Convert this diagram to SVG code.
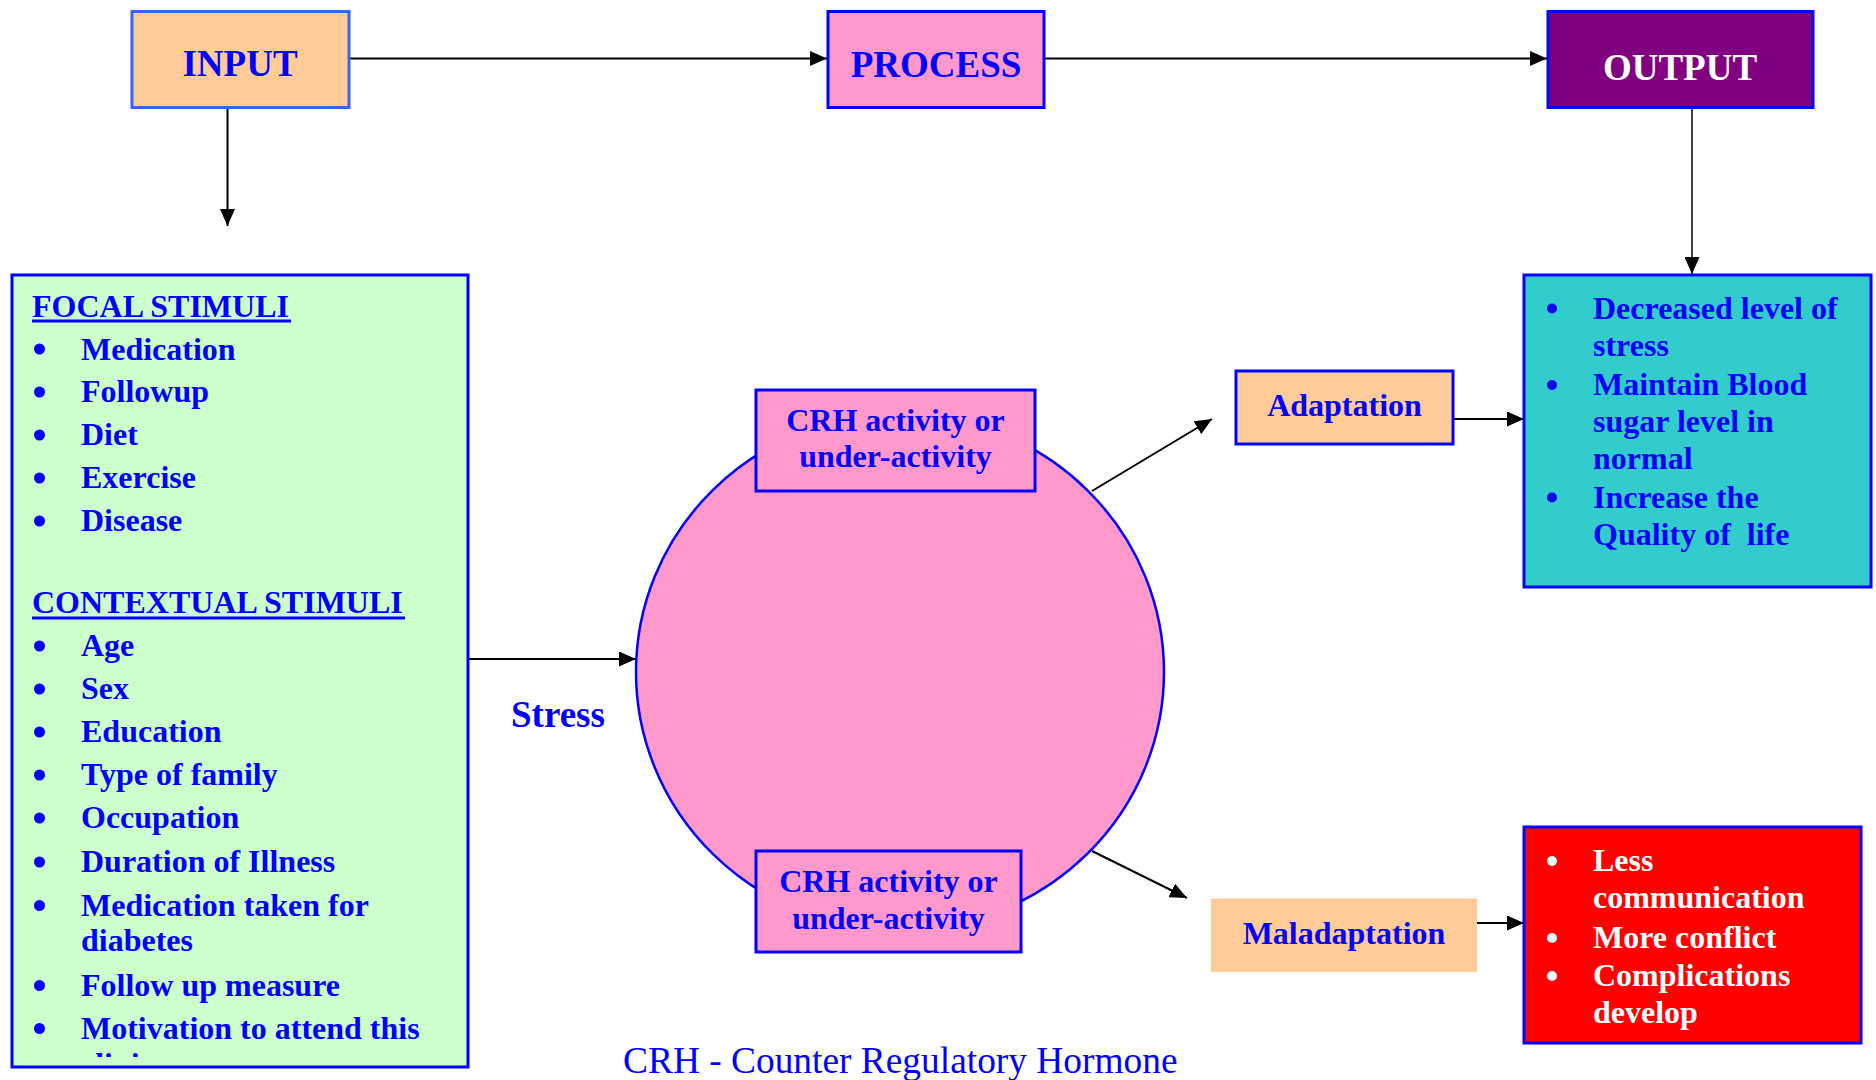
<svg xmlns="http://www.w3.org/2000/svg" width="1876" height="1080" viewBox="0 0 1876 1080">
<style>
.t{font-family:"Liberation Serif","Times New Roman",serif;font-weight:bold;fill:#0000FF}
.w{fill:#FFFFFF}
.big{font-size:37px}
.m{font-size:32px}
.mid{text-anchor:middle}
.box{stroke:#0000FF;stroke-width:3}
.ln{stroke:#000;stroke-width:2;fill:none}
.bd{fill:#0000FF}
.bw{fill:#FFFFFF}
</style>
<defs>
<marker id="ah" markerUnits="userSpaceOnUse" markerWidth="17" markerHeight="15" refX="17" refY="7.5" orient="auto">
<path d="M0,0 L17,7.5 L0,15 Z" fill="#000"/>
</marker>
<clipPath id="gclip"><rect x="12" y="275" width="456" height="782"/></clipPath>
</defs>
<rect width="1876" height="1080" fill="#FFFFFF"/>

<g id="connectors">
<line class="ln" x1="349" y1="58.5" x2="827" y2="58.5" marker-end="url(#ah)"/>
<line class="ln" x1="1045" y1="58.5" x2="1547" y2="58.5" marker-end="url(#ah)"/>
<line class="ln" x1="227.5" y1="108" x2="227.5" y2="226" marker-end="url(#ah)"/>
<line class="ln" style="stroke-width:1.5" x1="1692" y1="108" x2="1692" y2="274" marker-end="url(#ah)"/>
<line class="ln" x1="468" y1="659" x2="636" y2="659" marker-end="url(#ah)"/>
<line class="ln" x1="1092" y1="491" x2="1212" y2="419" marker-end="url(#ah)"/>
<line class="ln" x1="1092" y1="851" x2="1187" y2="898" marker-end="url(#ah)"/>
<line class="ln" x1="1453" y1="419" x2="1524" y2="419" marker-end="url(#ah)"/>
<line class="ln" x1="1477" y1="923" x2="1524" y2="923" marker-end="url(#ah)"/>
</g>

<g id="input">
<rect x="132" y="11.5" width="217" height="96" fill="#FFCC99" stroke="#3366FF" stroke-width="3"/>
<text class="t big mid" x="240" y="76">INPUT</text>
</g>

<g id="process">
<rect x="828" y="11.5" width="216" height="96" fill="#FF99CC" class="box"/>
<text class="t big mid" x="936" y="76.5">PROCESS</text>
</g>

<g id="output">
<rect x="1548" y="11.5" width="265" height="96" fill="#800080" class="box"/>
<text class="t big mid w" x="1680" y="80">OUTPUT</text>
</g>

<g id="stimuli">
<rect x="12" y="275" width="456" height="792" fill="#CCFFCC" class="box"/>
<text class="t m" x="32" y="316.5">FOCAL STIMULI</text>
<rect x="32" y="319.5" width="259" height="3" class="bd"/>
<g class="bd">
<circle cx="39.5" cy="349" r="5.5"/>
<circle cx="39.5" cy="392" r="5.5"/>
<circle cx="39.5" cy="435" r="5.5"/>
<circle cx="39.5" cy="478" r="5.5"/>
<circle cx="39.5" cy="521" r="5.5"/>
<circle cx="39.5" cy="646" r="5.5"/>
<circle cx="39.5" cy="689" r="5.5"/>
<circle cx="39.5" cy="732" r="5.5"/>
<circle cx="39.5" cy="775" r="5.5"/>
<circle cx="39.5" cy="818" r="5.5"/>
<circle cx="39.5" cy="862" r="5.5"/>
<circle cx="39.5" cy="905.5" r="5.5"/>
<circle cx="39.5" cy="985.5" r="5.5"/>
<circle cx="39.5" cy="1028.5" r="5.5"/>
</g>
<text class="t m" x="81" y="359.5">Medication</text>
<text class="t m" x="81" y="402">Followup</text>
<text class="t m" x="81" y="445">Diet</text>
<text class="t m" x="81" y="488">Exercise</text>
<text class="t m" x="81" y="531">Disease</text>
<text class="t m" x="32" y="613">CONTEXTUAL STIMULI</text>
<rect x="32" y="616.5" width="373" height="3" class="bd"/>
<text class="t m" x="81" y="656">Age</text>
<text class="t m" x="81" y="699">Sex</text>
<text class="t m" x="81" y="742">Education</text>
<text class="t m" x="81" y="785">Type of family</text>
<text class="t m" x="81" y="828">Occupation</text>
<text class="t m" x="81" y="872">Duration of Illness</text>
<text class="t m" x="81" y="915.5">Medication taken for</text>
<text class="t m" x="81" y="951">diabetes</text>
<text class="t m" x="81" y="995.5">Follow up measure</text>
<text class="t m" x="81" y="1038.5">Motivation to attend this</text>
<text class="t m" x="81" y="1075" clip-path="url(#gclip)">clinic</text>
</g>

<g id="stress-label">
<text class="t big" x="511" y="727">Stress</text>
</g>

<g id="process-circle">
<ellipse cx="900" cy="672" rx="264" ry="258" fill="#FF99CC" stroke="#0000FF" stroke-width="2.5"/>
</g>

<g id="crh-top">
<rect x="756" y="390" width="279" height="101" fill="#FF99CC" class="box"/>
<text class="t m mid" x="895.5" y="431">CRH activity or</text>
<text class="t m mid" x="895.5" y="467">under-activity</text>
</g>

<g id="crh-bottom">
<rect x="756" y="851" width="265" height="101" fill="#FF99CC" class="box"/>
<text class="t m mid" x="888.5" y="892">CRH activity or</text>
<text class="t m mid" x="888.5" y="928.5">under-activity</text>
</g>

<g id="adaptation">
<rect x="1236" y="371" width="217" height="73" fill="#FFCC99" class="box"/>
<text class="t m mid" x="1344.5" y="416">Adaptation</text>
</g>

<g id="maladaptation">
<rect x="1211" y="898.5" width="266" height="73.5" fill="#FFCC99"/>
<text class="t m mid" x="1344" y="943.5">Maladaptation</text>
</g>

<g id="positive-outcomes">
<rect x="1524" y="275" width="347" height="312" fill="#33CCCC" class="box"/>
<g class="bd">
<circle cx="1552" cy="308.5" r="5"/>
<circle cx="1552" cy="385" r="5"/>
<circle cx="1552" cy="497.5" r="5"/>
</g>
<text class="t m" x="1593" y="318.5">Decreased level of</text>
<text class="t m" x="1593" y="355.5">stress</text>
<text class="t m" x="1593" y="395">Maintain Blood</text>
<text class="t m" x="1593" y="432">sugar level in</text>
<text class="t m" x="1593" y="469">normal</text>
<text class="t m" x="1593" y="507.5">Increase the</text>
<text class="t m" x="1593" y="544.5" style="white-space:pre">Quality of  life</text>
</g>

<g id="negative-outcomes">
<rect x="1524" y="827" width="337" height="216" fill="#FF0000" class="box"/>
<g class="bw">
<circle cx="1552" cy="861" r="5"/>
<circle cx="1552" cy="938" r="5"/>
<circle cx="1552" cy="976" r="5"/>
</g>
<text class="t m w" x="1593" y="871">Less</text>
<text class="t m w" x="1593" y="908">communication</text>
<text class="t m w" x="1593" y="948">More conflict</text>
<text class="t m w" x="1593" y="986">Complications</text>
<text class="t m w" x="1593" y="1023">develop</text>
</g>

<g id="footnote">
<text x="623" y="1073" style="font-family:'Liberation Serif','Times New Roman',serif;font-size:37.4px;fill:#0000FF">CRH - Counter Regulatory Hormone</text>
</g>
</svg>
